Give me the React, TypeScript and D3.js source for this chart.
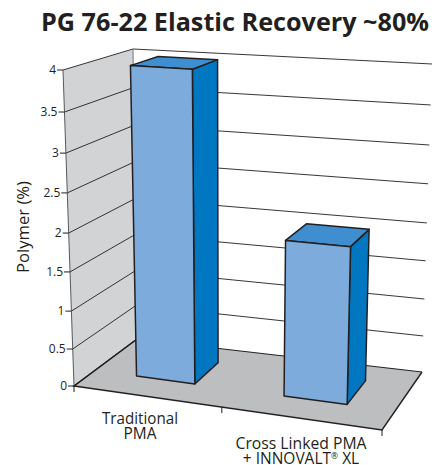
import React from "react";
import * as d3 from "d3";

const titleText = "PG 76-22 Elastic Recovery ~ 80%";
const yAxisTitle = "Polymer (%)";
const yTicks = [0, 0.5, 1, 1.5, 2, 2.5, 3, 3.5, 4];
const yTickLabels = ["0", "0.5", "1", "1.5", "2", "2.5", "3", "3.5", "4"];
const categories = ["Traditional PMA", "Cross Linked PMA + INNOVALT XL"];
const polymerPct = [4, 2];

type P = [number, number];
// box corners on screen: floor and ceiling; f=front, b=back, l=left, r=right
const floorC = { fl: [74, 386] as P, fr: [382, 430] as P, br: [422, 372] as P, bl: [137, 339] as P };
const topC = { fl: [63, 70] as P, fr: [392, 90] as P, br: [432, 64] as P, bl: [133, 49] as P };

// perspective foreshortening of the vertical axis
const vScale = d3.scaleLinear().domain(yTicks).range([0, 0.117, 0.237, 0.361, 0.484, 0.611, 0.737, 0.867, 1]);

const lerp = (a: P, b: P, t: number): P => [a[0] + (b[0] - a[0]) * t, a[1] + (b[1] - a[1]) * t];
const onPlane = (c: typeof floorC, u: number, w: number): P => lerp(lerp(c.fl, c.fr, u), lerp(c.bl, c.br, u), w);
const project = (u: number, w: number, v: number): P => lerp(onPlane(floorC, u, w), onPlane(topC, u, w), vScale(v));

const pathOf = (pts: P[], close = true) => (d3.line()(pts) ?? "") + (close ? "Z" : "");

const barU = d3.scaleOrdinal<string, [number, number]>().domain(categories).range([[0.139, 0.333], [0.63, 0.84]]);
const barW: [number, number] = [0.33, 0.75];
const catTicks = [0, 0.48, 1];

const INK = "#231f20";
const FONT = "'Open Sans', 'Noto Sans', sans-serif";

export default function App() {
  return (
    <svg width={448} height={465} style={{ position: "absolute", left: 0, top: 0, background: "#fff" }} fontFamily={FONT}>
      {/* title */}
      <text x={41} y={31} fontSize={25.5} fontWeight={700} fill={INK} textLength={388} lengthAdjust="spacingAndGlyphs">
        {titleText.replace("~ ", "~")}
      </text>

      {/* left wall */}
      <path d={pathOf([project(0, 0, 0), project(0, 0, 4), project(0, 1, 4), project(0, 1, 0)])} fill="#d1d3d4" stroke="none" />
      {/* floor */}
      <path d={pathOf([floorC.fl, floorC.fr, floorC.br, floorC.bl])} fill="#bcbec0" stroke="none" />

      {/* gridlines */}
      {yTicks.map((t) => (
        <g key={t} fill="none" stroke={INK} strokeWidth={t === 0 ? 1.2 : 0.9}>
          <path d={pathOf([project(0, 0, t), project(0, 1, t), project(1, 1, t)], false)} />
        </g>
      ))}
      {/* box edges */}
      <path d={pathOf([project(0, 0, 0), project(0, 0, 4)], false)} stroke="#58595b" strokeWidth={1} fill="none" />
      <path d={pathOf([project(0, 1, 0), project(0, 1, 4)], false)} stroke="#58595b" strokeWidth={0.8} fill="none" />
      <path d={pathOf([floorC.bl, floorC.fl, floorC.fr, floorC.br], false)} stroke={INK} strokeWidth={1.4} fill="none" />

      {/* bars */}
      {categories.map((c, i) => {
        const [u0, u1] = barU(c);
        const [w0, w1] = barW;
        const v = polymerPct[i];
        return (
          <g key={c} stroke={INK} strokeWidth={1.5} strokeLinejoin="round">
            <path d={pathOf([project(u1, w0, 0), project(u1, w1, 0), project(u1, w1, v), project(u1, w0, v)])} fill="#0077c0" />
            <path d={pathOf([project(u0, w0, v), project(u1, w0, v), project(u1, w1, v), project(u0, w1, v)])} fill="#3f8fd0" />
            <path d={pathOf([project(u0, w0, 0), project(u1, w0, 0), project(u1, w0, v), project(u0, w0, v)])} fill="#7dabdc" />
          </g>
        );
      })}

      {/* y axis ticks and labels */}
      {yTicks.map((t, i) => {
        const [x, y] = project(0, 0, t);
        return (
          <g key={t}>
            <line x1={x - 6} x2={x} y1={y} y2={y} stroke={INK} strokeWidth={1} />
            <text x={x - 7} y={y + 4} textAnchor="end" fontSize={12} fill={INK}>{yTickLabels[i]}</text>
          </g>
        );
      })}
      <text transform="translate(29,227) rotate(-90)" textAnchor="middle" fontSize={15.5} fill={INK} textLength={92} lengthAdjust="spacingAndGlyphs">{yAxisTitle}</text>

      {/* x ticks */}
      {catTicks.map((u) => {
        const [x, y] = onPlane(floorC, u, 0);
        return <line key={u} x1={x} x2={x} y1={y} y2={y + 6} stroke={INK} strokeWidth={1} />;
      })}

      {/* category labels */}
      <g fontSize={15.5} fill={INK} textAnchor="middle" lengthAdjust="spacingAndGlyphs">
        <text x={140} y={424} textLength={76} lengthAdjust="spacingAndGlyphs">Traditional</text>
        <text x={140} y={438.5} textLength={33} lengthAdjust="spacingAndGlyphs">PMA</text>
        <text x={301} y={449} textLength={131} lengthAdjust="spacingAndGlyphs">Cross Linked PMA</text>
        <text x={301} y={463.5}>+ INNOVALT<tspan fontSize={8.5} dy={-5}>®</tspan><tspan dy={5}> XL</tspan></text>
      </g>
    </svg>
  );
}
